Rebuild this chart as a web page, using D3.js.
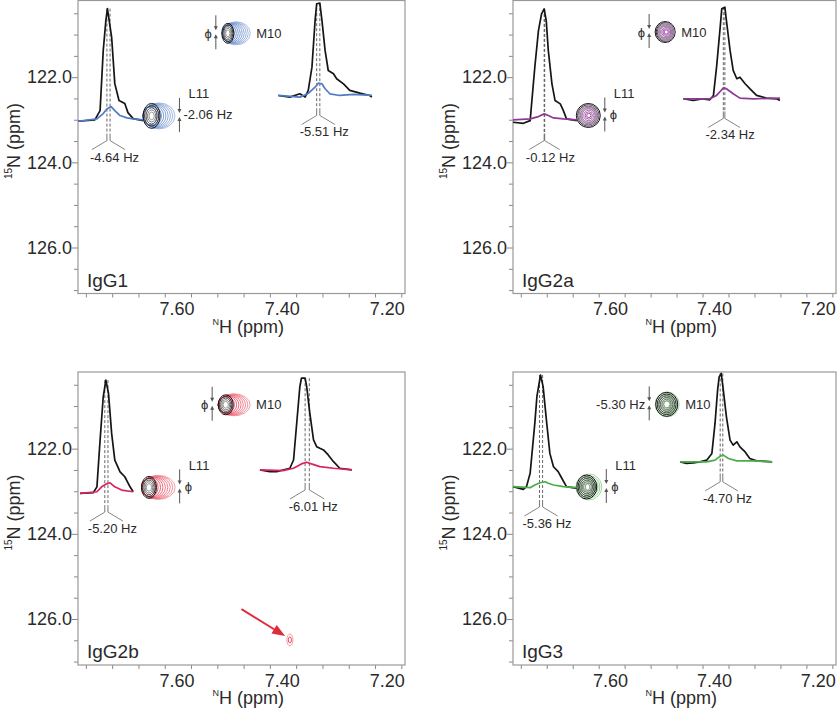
<!DOCTYPE html>
<html><head><meta charset="utf-8">
<script src="https://cdn.jsdelivr.net/npm/d3@7/dist/d3.min.js"></script>
<style>body{margin:0;background:#fff}text{font-family:"Liberation Sans",Arial,sans-serif}</style>
</head><body><svg id="c" width="840" height="710"></svg>
<script>
// ---------- data ----------
const panelNames = ["IgG1","IgG2a","IgG2b","IgG3"];
const panelColors = ["#4f7bc4","#8e3a94","#d9245e","#4aac4a"];
const contourColors = ["#4f7bc4","#8e3a94","#e8384f","#4aac4a"];
const obsOnTop = [false,true,false,false];
const hTickValues = [7.80,7.75,7.70,7.65,7.60,7.55,7.50,7.45,7.40,7.35,7.30,7.25,7.20];
const hTickLabels = {"7.60":"7.60","7.40":"7.40","7.20":"7.20"};
const nTickValues = [120.5,121.0,121.5,122.0,122.5,123.0,123.5,124.0,124.5,125.0,125.5,126.0,126.5,127.0];
const nTickLabels = {"122.0":"122.0","124.0":"124.0","126.0":"126.0"};
const hDomain = [7.815, 7.193];
const nDomain = [120.2, 127.08];

// 1D slices: [1H ppm, intensity (% of reference max)]
const igg1L11Ref = [[7.815,-0.6],[7.783,0.6],[7.773,8.9],[7.767,62.5],[7.762,89.3],[7.759,100],[7.751,74.4],[7.745,33],[7.737,17.9],[7.726,15.2],[7.720,7.1],[7.710,1.8],[7.691,0]];
const igg1L11Obs = [[7.815,-0.6],[7.779,1.5],[7.767,6.3],[7.760,10.4],[7.752,12.5],[7.745,8.9],[7.735,4.5],[7.722,2.4],[7.710,1.5],[7.691,0.6]];
const igg1M10Ref = [[7.434,0],[7.412,-1.5],[7.393,1.5],[7.383,-1.5],[7.377,4.5],[7.370,25.3],[7.364,67],[7.361,81.9],[7.355,82.4],[7.351,67],[7.345,40.2],[7.339,22.3],[7.329,19.4],[7.323,14.9],[7.310,10.4],[7.298,4.5],[7.279,2.1],[7.260,0],[7.256,-1.5]];
const igg1M10Obs = [[7.434,0],[7.393,-1.5],[7.378,1.5],[7.364,7.4],[7.358,11],[7.351,10.4],[7.345,6],[7.336,1.5],[7.317,0],[7.291,0.9],[7.256,0]];

const igg2aL11Ref = [[7.815,-1.5],[7.795,-2.4],[7.782,0],[7.773,47.6],[7.766,80.4],[7.760,95.3],[7.755,99.7],[7.751,89.3],[7.747,62.5],[7.740,32.8],[7.734,17.9],[7.724,14.9],[7.718,8.9],[7.712,1.5],[7.692,0]];
const igg2aL11Obs = [[7.815,0.6],[7.782,1.5],[7.766,3.6],[7.755,6],[7.747,4.5],[7.737,2.4],[7.718,1.5],[7.692,0.6]];
const igg2aM10Ref = [[7.487,-0.3],[7.468,-1.8],[7.449,-0.3],[7.436,-1.2],[7.429,2.7],[7.423,28],[7.416,63.7],[7.413,80.1],[7.407,81.5],[7.404,69.6],[7.397,42.9],[7.391,25],[7.384,17.6],[7.378,19],[7.368,13.1],[7.359,8.7],[7.346,2.7],[7.327,0.3],[7.307,-0.3],[7.301,-1.8]];
const igg2aM10Obs = [[7.487,-0.3],[7.436,-0.3],[7.423,2.7],[7.413,7.8],[7.409,9.6],[7.404,8.7],[7.391,4.2],[7.378,0.3],[7.352,-0.3],[7.301,0.3]];

const igg2bL11Ref = [[7.811,-1.2],[7.786,-0.6],[7.779,4.7],[7.773,46.4],[7.767,85.1],[7.762,100],[7.757,88.1],[7.751,52.4],[7.745,28.6],[7.735,18.1],[7.726,13.7],[7.716,4.7],[7.710,0.3]];
const igg2bL11Obs = [[7.811,-1.2],[7.779,0.3],[7.770,4.7],[7.762,7.1],[7.754,8.3],[7.745,4.7],[7.732,1.8],[7.710,0.3]];
const igg2bM10Ref = [[7.469,0],[7.450,-1.5],[7.437,-1.5],[7.425,0],[7.412,1.5],[7.405,8.9],[7.399,41.7],[7.393,74.4],[7.390,81.9],[7.383,81.9],[7.380,74.4],[7.374,50.6],[7.367,26.8],[7.361,20.8],[7.355,19.4],[7.348,17.9],[7.339,13.4],[7.329,7.4],[7.317,1.5],[7.294,0]];
const igg2bM10Obs = [[7.469,0],[7.425,-0.6],[7.405,1.5],[7.390,5.4],[7.380,6.9],[7.371,5.4],[7.355,3],[7.329,1.5],[7.294,0]];

const igg3L11Ref = [[7.815,0.3],[7.795,-2.1],[7.789,0.3],[7.782,12.2],[7.773,56.8],[7.769,80.6],[7.762,100],[7.757,89.6],[7.750,56.8],[7.744,30],[7.737,18.1],[7.728,13.7],[7.721,7.8],[7.712,0.3],[7.692,-1.2]];
const igg3L11Obs = [[7.815,0.3],[7.782,-0.6],[7.773,1.8],[7.763,3.8],[7.753,4.7],[7.747,3.3],[7.737,1.8],[7.718,0.3],[7.692,-0.6]];
const igg3M10Ref = [[7.493,0],[7.481,-1.4],[7.468,-0.9],[7.455,0],[7.442,1.5],[7.432,7.5],[7.426,34.3],[7.421,64],[7.418,75.9],[7.414,78.9],[7.410,64],[7.404,40.2],[7.397,19.4],[7.391,14.9],[7.384,17.9],[7.378,13.4],[7.368,8.9],[7.359,3],[7.346,0.9],[7.316,0]];
const igg3M10Obs = [[7.493,0],[7.442,0],[7.426,1.5],[7.416,5.1],[7.410,6],[7.400,3],[7.384,0.9],[7.352,0.9],[7.316,0]];

// slice baselines (15N ppm), peak positions (1H ppm) and coupling labels
const sliceBaselines = [[123.02,122.43],[123.02,122.50],[123.02,122.50],[122.90,122.31]];
const peakRefH = [[7.760,7.361],[7.755,7.410],[7.764,7.383],[7.764,7.416]];
const peakObsH = [[7.754,7.355],[7.754,7.407],[7.758,7.375],[7.758,7.411]];
const sliceHzLabels = [["-4.64 Hz","-5.51 Hz"],["-0.12 Hz","-2.34 Hz"],["-5.20 Hz","-6.01 Hz"],["-5.36 Hz","-4.70 Hz"]];
const phiLabels = [["-2.06 Hz","ϕ"],["ϕ","ϕ"],["ϕ","ϕ"],["ϕ","-5.30 Hz"]];
const peakNames = ["L11","M10"];

// contours: [1H ppm, 15N ppm, rH min, rH max, rN min, rN max, levels, fan]
const contourL11Ref = [[7.675,122.91,0.005,0.0162,0.09,0.293,5,0],[7.670,122.90,0.013,0.0231,0.16,0.282,5,0],[7.680,122.91,0.005,0.0143,0.09,0.258,5,0],[7.673,122.90,0.006,0.0193,0.08,0.282,6,0]];
const contourL11Obs = [[7.661,122.91,0.0133,0.0304,0.211,0.305,9,1],[7.669,122.90,0.004,0.0185,0.05,0.235,6,0],[7.662,122.91,0.0133,0.0318,0.211,0.282,9,1],[7.669,122.90,0.007,0.025,0.09,0.305,6,0]];
const contourM10Ref = [[7.530,120.97,0.004,0.0114,0.08,0.235,5,0],[7.522,120.94,0.011,0.0193,0.14,0.246,5,0],[7.534,120.97,0.005,0.0143,0.08,0.235,5,0],[7.519,120.96,0.006,0.0212,0.08,0.282,6,0]];
const contourM10Obs = [[7.514,120.97,0.0114,0.0266,0.188,0.27,9,1],[7.520,120.94,0.004,0.0155,0.05,0.200,6,0],[7.518,120.97,0.0133,0.0304,0.188,0.258,9,1],[7.518,120.96,0.007,0.0231,0.09,0.293,6,0]];
const extraContour = [7.412,126.49,0.003,0.0057,0.07,0.14,2,0]; // IgG2b new peak
const extraArrow = [[7.504,125.77],[7.421,126.40]];

const slicesL11 = [[igg1L11Ref,igg1L11Obs],[igg2aL11Ref,igg2aL11Obs],[igg2bL11Ref,igg2bL11Obs],[igg3L11Ref,igg3L11Obs]];
const slicesM10 = [[igg1M10Ref,igg1M10Obs],[igg2aM10Ref,igg2aM10Obs],[igg2bM10Ref,igg2bM10Obs],[igg3M10Ref,igg3M10Obs]];

// ---------- layout ----------
const svg = d3.select("#c");
svg.append("rect").attr("width",840).attr("height",710).attr("fill","#fff");
const cols = [[78,405],[513,836]];
const rows = [[0.5,293.5],[372,665]];
const iy = d3.scaleLinear().domain([0,100]).range([0,112]);
const TXT = "#2a2a2a";

function contourLevels(spec, x, y){
  const [H,N,rHmin,rHmax,rNmin,rNmax,n,fan] = spec;
  const out = [];
  for(let i=0;i<n;i++){
    const f = n===1?1:i/(n-1);
    const rH = rHmin+(rHmax-rHmin)*f, rN = rNmin+(rNmax-rNmin)*f;
    const cH = fan ? (H+rHmax)-rH : H;
    out.push({cx:x(cH),cy:y(N),rx:Math.abs(x(cH+rH)-x(cH)),ry:Math.abs(y(N+rN)-y(N)),f});
  }
  return out;
}
function drawLevels(g, levels, color, isRef){
  g.selectAll(null).data(levels.slice().reverse()).enter().append("ellipse")
    .attr("cx",d=>d.cx).attr("cy",d=>d.cy).attr("rx",d=>d.rx).attr("ry",d=>d.ry)
    .attr("fill","none").attr("stroke-width",isRef?1:0.9)
    .attr("stroke",d=> isRef ? d3.interpolateRgb("#111","#9a9a9a")(1-d.f) : d3.interpolateRgb(color,"#ffffff")(0.45*d.f));
}
function extent(levels){
  return {left:d3.min(levels,d=>d.cx-d.rx),right:d3.max(levels,d=>d.cx+d.rx),cy:levels[0].cy};
}
function drawPair(g, refSpec, obsSpec, color, top, x, y){
  const r=contourLevels(refSpec,x,y), o=contourLevels(obsSpec,x,y);
  if(top){ drawLevels(g,r,"#111",true); drawLevels(g,o,color,false); }
  else { drawLevels(g,o,color,false); drawLevels(g,r,"#111",true); }
  const er=extent(r), eo=extent(o);
  return {left:Math.min(er.left,eo.left),right:Math.max(er.right,eo.right),cy:er.cy};
}

function phiArrow(g, ax, cy){
  const c="#555";
  g.append("line").attr("x1",ax).attr("x2",ax).attr("y1",cy-17).attr("y2",cy-4).attr("stroke",c).attr("stroke-width",1);
  g.append("line").attr("x1",ax).attr("x2",ax).attr("y1",cy+4).attr("y2",cy+17).attr("stroke",c).attr("stroke-width",1);
  g.append("path").attr("d",`M${ax-2},${cy-6}L${ax+2},${cy-6}L${ax},${cy-2}Z`).attr("fill",c);
  g.append("path").attr("d",`M${ax-2},${cy+6}L${ax+2},${cy+6}L${ax},${cy+2}Z`).attr("fill",c);
}

panelNames.forEach((name,i)=>{
  const col=i%2,row=Math.floor(i/2);
  const x=d3.scaleLinear().domain(hDomain).range(cols[col]);
  const y=d3.scaleLinear().domain(nDomain).range(rows[row]);
  const g=svg.append("g");
  const [x0,x1]=cols[col],[y0,y1]=rows[row];

  // axes
  const fmtH=d=>hTickLabels[d.toFixed(2)]||"";
  const fmtN=d=>nTickLabels[d.toFixed(1)]||"";
  const ax=g.append("g").attr("transform",`translate(0,${y1})`)
    .call(d3.axisBottom(x).tickValues(hTickValues).tickSize(4).tickFormat(fmtH));
  ax.select(".domain").remove();
  ax.selectAll("line").attr("stroke","#888");
  ax.selectAll("text").attr("text-anchor","end").attr("x",3).attr("y",9).attr("font-size",18).attr("fill",TXT).attr("font-family",null);
  const ay=g.append("g").attr("transform",`translate(${x0},0)`)
    .call(d3.axisLeft(y).tickValues(nTickValues).tickSize(4).tickPadding(2).tickFormat(fmtN));
  ay.select(".domain").remove();
  ay.selectAll("line").attr("stroke","#888").attr("x2",d=>fmtN(d)?-6:-4);
  ay.selectAll("text").attr("font-size",18).attr("fill",TXT).attr("font-family",null);
  g.append("rect").attr("x",x0).attr("y",y0).attr("width",x1-x0).attr("height",y1-y0)
    .attr("fill","none").attr("stroke","#999").attr("stroke-width",1.2);

  // axis titles
  const xt=g.append("text").attr("x",(x0+x1)/2-29).attr("y",y1+39).attr("fill",TXT);
  xt.append("tspan").attr("font-size",9).attr("dy",-8).text("N");
  xt.append("tspan").attr("font-size",18).attr("dy",8).text("H (ppm)");
  const yt=g.append("text").attr("transform",`translate(${x0-58},${(y0+y1)/2-6}) rotate(-90)`).attr("text-anchor","middle").attr("fill",TXT);
  yt.append("tspan").attr("font-size",10).attr("dy",-8).text("15");
  yt.append("tspan").attr("font-size",18).attr("dy",8).text("N (ppm)");

  g.append("text").attr("x",x0+9).attr("y",y1-7).attr("font-size",19).attr("fill",TXT).text(name);

  // contours
  const color=panelColors[i], ccol=contourColors[i];
  const cg=g.append("g");
  const l11=drawPair(cg,contourL11Ref[i],contourL11Obs[i],ccol,obsOnTop[i],x,y);
  const m10=drawPair(cg,contourM10Ref[i],contourM10Obs[i],ccol,obsOnTop[i],x,y);

  // phi arrows & labels
  const lx=l11.right+4.5, lcy=l11.cy-1;
  phiArrow(g,lx,lcy);
  g.append("text").attr("x",lx+(phiLabels[i][0]==="ϕ"?5:4)).attr("y",lcy).attr("dy","0.35em").attr("font-size",13).attr("fill",TXT).text(phiLabels[i][0]);
  g.append("text").attr("x",lx+9).attr("y",lcy-21).attr("dy","0.35em").attr("font-size",13).attr("fill",TXT).text(peakNames[0]);
  const mx=m10.left-6, mcy=m10.cy-1;
  phiArrow(g,mx,mcy);
  g.append("text").attr("x",mx-4).attr("y",mcy+1).attr("dy","0.35em").attr("text-anchor","end").attr("font-size",13).attr("fill",TXT).text(phiLabels[i][1]);
  g.append("text").attr("x",m10.right+6).attr("y",mcy+1).attr("dy","0.35em").attr("font-size",13).attr("fill",TXT).text(peakNames[1]);

  // slices
  [slicesL11[i],slicesM10[i]].forEach((pair,k)=>{
    const base=y(sliceBaselines[i][k]);
    const line=d3.line().x(d=>x(d[0])).y(d=>base-iy(d[1]));
    const top=base-iy(d3.max(pair[0],d=>d[1]));
    const xr=x(peakRefH[i][k]), xo=x(peakObsH[i][k]);
    [xr,xo].forEach(px=>{
      g.append("line").attr("x1",px).attr("x2",px).attr("y1",top).attr("y2",base+13)
        .attr("stroke","#555").attr("stroke-width",0.9).attr("stroke-dasharray","3,2");
      g.append("line").attr("x1",px).attr("x2",px).attr("y1",base+13).attr("y2",base+20)
        .attr("stroke","#666").attr("stroke-width",0.9);
    });
    const xl=Math.min(xr,xo), xrr=Math.max(xr,xo);
    g.append("path").attr("d",`M${xl-15},${base+29}L${xl},${base+20}M${xrr},${base+20}L${xrr+15},${base+29}`)
      .attr("fill","none").attr("stroke","#777").attr("stroke-width",0.9);
    g.append("text").attr("x",(xl+xrr)/2+6).attr("y",base+41).attr("text-anchor","middle").attr("font-size",13).attr("fill",TXT).text(sliceHzLabels[i][k]);
    g.append("path").datum(pair[0]).attr("d",line).attr("fill","none").attr("stroke","#151515").attr("stroke-width",1.7).attr("stroke-linejoin","round");
    g.append("path").datum(pair[1]).attr("d",line).attr("fill","none").attr("stroke",color).attr("stroke-width",1.7).attr("stroke-linejoin","round");
  });

  if(i===2){
    drawLevels(cg,contourLevels(extraContour,x,y),"#e8384f",false);
    const [a,b]=extraArrow;
    const ax1=x(a[0]),ay1=y(a[1]),ax2=x(b[0]),ay2=y(b[1]);
    const ang=Math.atan2(ay2-ay1,ax2-ax1), L=13, Wd=5;
    const bx=ax2-L*Math.cos(ang), by=ay2-L*Math.sin(ang);
    g.append("line").attr("x1",ax1).attr("y1",ay1).attr("x2",bx).attr("y2",by).attr("stroke","#e02b3a").attr("stroke-width",2);
    g.append("path").attr("d",`M${ax2},${ay2}L${bx+Wd*Math.sin(ang)},${by-Wd*Math.cos(ang)}L${bx-Wd*Math.sin(ang)},${by+Wd*Math.cos(ang)}Z`).attr("fill","#e02b3a");
  }
});
</script></body></html>
